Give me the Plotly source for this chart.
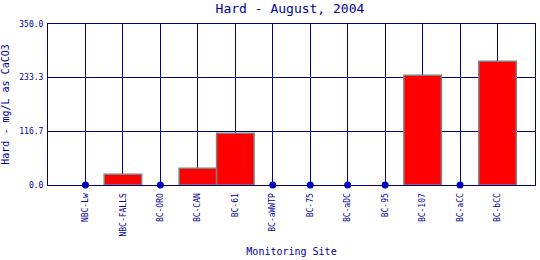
import plotly.graph_objects as go

sites = ["NBC-Lw", "NBC-FALLS", "BC-ORO", "BC-CAN", "BC-61", "BC-aWWTP",
         "BC-75", "BC-aDC", "BC-95", "BC-107", "BC-aCC", "BC-bCC"]
hard = [0, 23.3, 0, 36.3, 112.4, 0, 0, 0, 0, 238.5, 0, 269.0]
yticks = [0.0, 116.7, 233.3, 350.0]

navy = "#000080"
textc = "#000099"
font = "DejaVu Sans Mono"

xs = list(range(len(sites)))
bar_x = [x for x, v in zip(xs, hard) if v > 0]
bar_y = [v for v in hard if v > 0]
dot_x = [x for x, v in zip(xs, hard) if v == 0]
dot_y = [v for v in hard if v == 0]

fig = go.Figure()
fig.add_trace(go.Bar(x=bar_x, y=bar_y, width=1.0,
                     marker=dict(color="#FF0000", line=dict(color="#808080", width=1.5))))
fig.add_trace(go.Scatter(x=dot_x, y=dot_y, mode="markers",
                         marker=dict(color="#0000CC", size=7), cliponaxis=False))

fig.update_layout(
    width=540, height=260,
    margin=dict(l=47, r=4, t=24, b=75),
    paper_bgcolor="white", plot_bgcolor="white",
    showlegend=False,
    title=dict(text="Hard - August, 2004", x=0.537, xanchor="center", y=0.968, yanchor="middle",
               font=dict(family=font, size=13, color=textc)),
    font=dict(family=font, color=textc),
)
fig.update_xaxes(
    range=[-1, 12], tickmode="array", tickvals=xs, ticktext=sites,
    tickangle=-90, tickfont=dict(family=font, size=8, color=textc),
    showgrid=True, gridcolor=navy, gridwidth=1,
    showline=True, linecolor=navy, linewidth=1, mirror=True,
    ticks="outside", ticklen=4, tickcolor="rgba(0,0,0,0)", zeroline=False,
    title=dict(text="Monitoring Site", font=dict(family=font, size=10, color=textc), standoff=12),
)
fig.update_yaxes(
    range=[0, 350], tickmode="array", tickvals=yticks,
    ticktext=[f"{v:.1f}" for v in yticks],
    tickfont=dict(family=font, size=8, color=textc),
    showgrid=True, gridcolor=navy, gridwidth=1,
    showline=True, linecolor=navy, linewidth=1, mirror=True,
    ticks="outside", ticklen=2, tickcolor="rgba(0,0,0,0)", zeroline=False,
    title=dict(text="Hard - mg/L as CaCO3", font=dict(family=font, size=10, color=textc), standoff=8),
)
fig.write_html("out.html")
